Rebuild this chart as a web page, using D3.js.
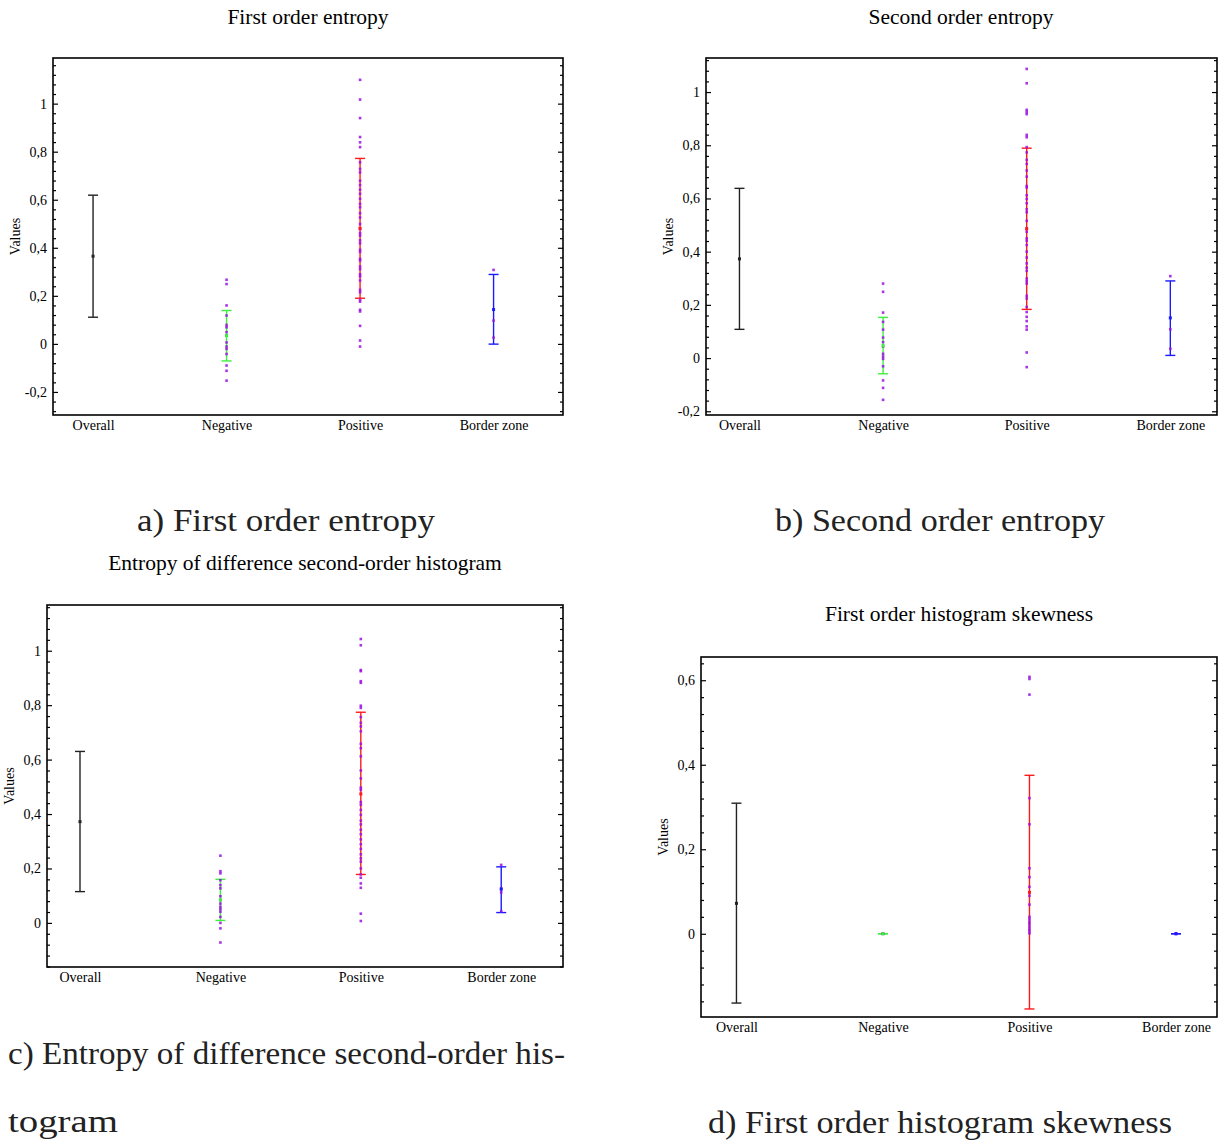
<!DOCTYPE html>
<html>
<head>
<meta charset="utf-8">
<script src="https://cdn.jsdelivr.net/npm/d3@7"></script>
<style>
	body { margin: 0; background: #fff; }
	svg { display: block; font-family: "Liberation Serif", "Times New Roman", serif; }
	.tick text { font-size: 14px; fill: #000; }
	.cat text { font-size: 14px; }
	.caption { font-family: "Liberation Serif", serif; font-size: 31px; fill: #222; }
</style>
</head>
<body>
<div id="chart"></div>
<script>
// categories shared by every panel
let categories = ['Overall', 'Negative', 'Positive', 'Border zone'];

// [low, mean, high] of each error bar, one row per category
let aBars = [[0.111, 0.365, 0.619], [-0.071, 0.034, 0.139], [0.19, 0.481, 0.772], [-0.001, 0.143, 0.289]];
let bBars = [[0.108, 0.373, 0.638], [-0.059, 0.047, 0.153], [0.183, 0.486, 0.789], [0.01, 0.151, 0.29]];
let cBars = [[0.115, 0.372, 0.63], [0.009, 0.085, 0.16], [0.178, 0.474, 0.774], [0.038, 0.124, 0.206]];
let dBars = [[-0.164, 0.072, 0.309], [0, 0, 0], [-0.178, 0.098, 0.375], [0, 0, 0]];

// individual observations (no points drawn for Overall)
let aNegative = [0.267, 0.249, 0.16, 0.118, 0.079, 0.069, 0.049, 0.035, 0.006, -0.011, -0.021, -0.042, -0.09, -0.112, -0.153];
let aPositive = [1.099, 1.017, 0.94, 0.861, 0.839, 0.819, 0.756, 0.728, 0.714, 0.679, 0.661, 0.642, 0.625, 0.604, 0.583,
	0.569, 0.544, 0.526, 0.499, 0.478, 0.461, 0.451, 0.431, 0.419, 0.392, 0.383, 0.354, 0.347, 0.322, 0.311, 0.29, 0.281,
	0.264, 0.225, 0.215, 0.183, 0.176, 0.142, 0.135, 0.075, 0.014, -0.011];
let aBorder = [0.308, 0.097, 0.026];

let bNegative = [0.28, 0.249, 0.171, 0.136, 0.107, 0.077, 0.06, 0.044, 0.016, 0.006, -0.003, -0.031, -0.084, -0.112, -0.157];
let bPositive = [1.087, 1.033, 0.933, 0.925, 0.917, 0.839, 0.83, 0.793, 0.773, 0.745, 0.73, 0.705, 0.682, 0.647, 0.641,
	0.612, 0.598, 0.582, 0.559, 0.548, 0.516, 0.487, 0.475, 0.45, 0.441, 0.425, 0.4, 0.378, 0.356, 0.34, 0.328, 0.299,
	0.289, 0.28, 0.234, 0.224, 0.192, 0.173, 0.155, 0.139, 0.119, 0.107, 0.021, -0.034];
let bBorder = [0.308, 0.108, 0.035];

let cNegative = [0.247, 0.19, 0.182, 0.157, 0.139, 0.127, 0.098, 0.084, 0.071, 0.059, 0.05, 0.041, 0.022, 0.0, -0.02, -0.072];
let cPositive = [1.043, 1.02, 0.929, 0.925, 0.888, 0.882, 0.798, 0.79, 0.756, 0.735, 0.722, 0.704, 0.658, 0.642, 0.612,
	0.56, 0.531, 0.497, 0.489, 0.444, 0.434, 0.415, 0.397, 0.376, 0.362, 0.342, 0.326, 0.307, 0.289, 0.272, 0.252, 0.237,
	0.225, 0.2, 0.178, 0.166, 0.145, 0.129, 0.034, 0.007];
let cBorder = [0.213, 0.127, 0.112, 0.043];

let dNegative = [0, 0, 0];
let dPositive = [0.608, 0.603, 0.566, 0.321, 0.259, 0.155, 0.134, 0.111, 0.09, 0.069, 0.04, 0.034, 0.028, 0.023,
	0.017, 0.011, 0.006, 0.001];
let dBorder = [0, 0, 0];

// y tick labels per panel
let aTicks = [-0.2, 0, 0.2, 0.4, 0.6, 0.8, 1];
let bTicks = [-0.2, 0, 0.2, 0.4, 0.6, 0.8, 1];
let cTicks = [0, 0.2, 0.4, 0.6, 0.8, 1];
let dTicks = [0, 0.2, 0.4, 0.6];

let COLORS = ['#222', '#3cf03c', '#ff1a1a', '#1a1aff'];
let POINT_COLOR = '#9a12e0';
let CAP = 5;
let PT = 2.6;

let panels = [
	{title: 'First order entropy', tx: 308, ty: 24, box: [53, 58, 563, 415], xDom: [-0.3, 3.52], yDom: [-0.296, 1.19],
		ticks: aTicks, bars: aBars, points: [[], aNegative, aPositive, aBorder]},
	{title: 'Second order entropy', tx: 961, ty: 24, box: [706, 58, 1217, 415], xDom: [-0.233, 3.325], yDom: [-0.214, 1.128],
		ticks: bTicks, bars: bBars, points: [[], bNegative, bPositive, bBorder]},
	{title: 'Entropy of difference second-order histogram', tx: 305, ty: 570, box: [47, 605, 563, 967], xDom: [-0.235, 3.44], yDom: [-0.162, 1.168],
		ticks: cTicks, bars: cBars, points: [[], cNegative, cPositive, cBorder]},
	{title: 'First order histogram skewness', tx: 959, ty: 621, box: [701, 657, 1217, 1017], xDom: [-0.242, 3.28], yDom: [-0.197, 0.655],
		ticks: dTicks, bars: dBars, points: [[], dNegative, dPositive, dBorder]}
];

let captions = [
	{lines: ['a) First order entropy'], x: 137, y: [531], w: [298]},
	{lines: ['b) Second order entropy'], x: 775, y: [531], w: [330]},
	{lines: ['c) Entropy of difference second-order his-', 'togram'], x: 8, y: [1064, 1132], w: [557, 110]},
	{lines: ['d) First order histogram skewness'], x: 708, y: [1133], w: [464]}
];

let locale = d3.formatLocale({decimal: ',', thousands: '.', grouping: [3], currency: ['', ''], minus: '-'});
let fmt = locale.format('~g');

let svg = d3.select('#chart').append('svg')
	.attr('width', 1218)
	.attr('height', 1142);

panels.forEach((p) => {
	let [x0, y0, x1, y1] = p.box;
	let x = d3.scaleLinear().domain(p.xDom).range([x0, x1]);
	let y = d3.scaleLinear().domain(p.yDom).range([y1, y0]);
	let g = svg.append('g');

	g.append('text')
		.attr('x', p.tx)
		.attr('y', p.ty)
		.attr('text-anchor', 'middle')
		.style('font-family', 'Liberation Serif')
		.style('font-size', '21.5px')
		.text(p.title);

	// minor ticks every 0.04
	let minor = d3.range(Math.ceil(p.yDom[0] / 0.04) * 0.04, p.yDom[1], 0.04)
		.filter((v) => !p.ticks.some((t) => Math.abs(t - v) < 1e-6));

	g.append('g').attr('transform', `translate(${x0},0)`)
		.call(d3.axisLeft(y).tickValues(minor).tickSize(-3).tickFormat(''))
		.call((s) => s.select('.domain').remove());
	g.append('g').attr('transform', `translate(${x1},0)`)
		.call(d3.axisRight(y).tickValues(minor).tickSize(-3).tickFormat(''))
		.call((s) => s.select('.domain').remove());

	g.append('g').attr('transform', `translate(${x0},0)`)
		.call(d3.axisLeft(y).tickValues(p.ticks).tickSize(-5).tickPadding(6).tickFormat(fmt))
		.call((s) => s.select('.domain').remove())
		.call((s) => s.selectAll('text').style('font-family', 'Liberation Serif'));
	g.append('g').attr('transform', `translate(${x1},0)`)
		.call(d3.axisRight(y).tickValues(p.ticks).tickSize(-5).tickFormat(''))
		.call((s) => s.select('.domain').remove());

	g.append('g').attr('class', 'cat').attr('transform', `translate(0,${y1})`)
		.call(d3.axisBottom(x).tickValues([0, 1, 2, 3]).tickSize(0).tickPadding(5).tickFormat((i) => categories[i]))
		.call((s) => s.select('.domain').remove())
		.call((s) => s.selectAll('text').style('font-family', 'Liberation Serif'));

	g.selectAll('.tick line').attr('stroke', '#000').attr('stroke-width', 1.2);

	g.append('rect')
		.attr('x', x0)
		.attr('y', y0)
		.attr('width', x1 - x0)
		.attr('height', y1 - y0)
		.attr('fill', 'none')
		.attr('stroke', '#000')
		.attr('stroke-width', 1.6);

	g.append('text')
		.attr('transform', `translate(${x0 - 38},${(y0 + y1) / 2}) rotate(-90)`)
		.attr('text-anchor', 'middle')
		.attr('dy', '0.35em')
		.style('font-family', 'Liberation Serif')
		.style('font-size', '14px')
		.text('Values');

	let bar = g.selectAll('.bar').data(p.bars).enter().append('g')
		.attr('class', 'bar')
		.attr('stroke', (d, i) => COLORS[i])
		.attr('stroke-width', 1.4);
	bar.append('line')
		.attr('x1', (d, i) => x(i)).attr('x2', (d, i) => x(i))
		.attr('y1', (d) => y(d[0])).attr('y2', (d) => y(d[2]));
	bar.append('line')
		.attr('x1', (d, i) => x(i) - CAP).attr('x2', (d, i) => x(i) + CAP)
		.attr('y1', (d) => y(d[0])).attr('y2', (d) => y(d[0]));
	bar.append('line')
		.attr('x1', (d, i) => x(i) - CAP).attr('x2', (d, i) => x(i) + CAP)
		.attr('y1', (d) => y(d[2])).attr('y2', (d) => y(d[2]));

	p.points.forEach((pts, i) => {
		g.selectAll(null).data(pts).enter().append('rect')
			.attr('x', x(i) - PT / 2)
			.attr('y', (d) => y(d) - PT / 2)
			.attr('width', PT)
			.attr('height', PT)
			.attr('fill', POINT_COLOR)
			.attr('opacity', 0.85);
	});

	g.selectAll('.mean').data(p.bars).enter().append('rect')
		.attr('x', (d, i) => x(i) - 1.5)
		.attr('y', (d) => y(d[1]) - 1.5)
		.attr('width', 3)
		.attr('height', 3)
		.attr('fill', (d, i) => COLORS[i]);
});

captions.forEach((c) => {
	c.lines.forEach((line, k) => {
		svg.append('text')
			.attr('class', 'caption')
			.attr('x', c.x)
			.attr('y', c.y[k])
			.attr('textLength', c.w[k])
			.attr('lengthAdjust', 'spacingAndGlyphs')
			.text(line);
	});
});
</script>
</body>
</html>
